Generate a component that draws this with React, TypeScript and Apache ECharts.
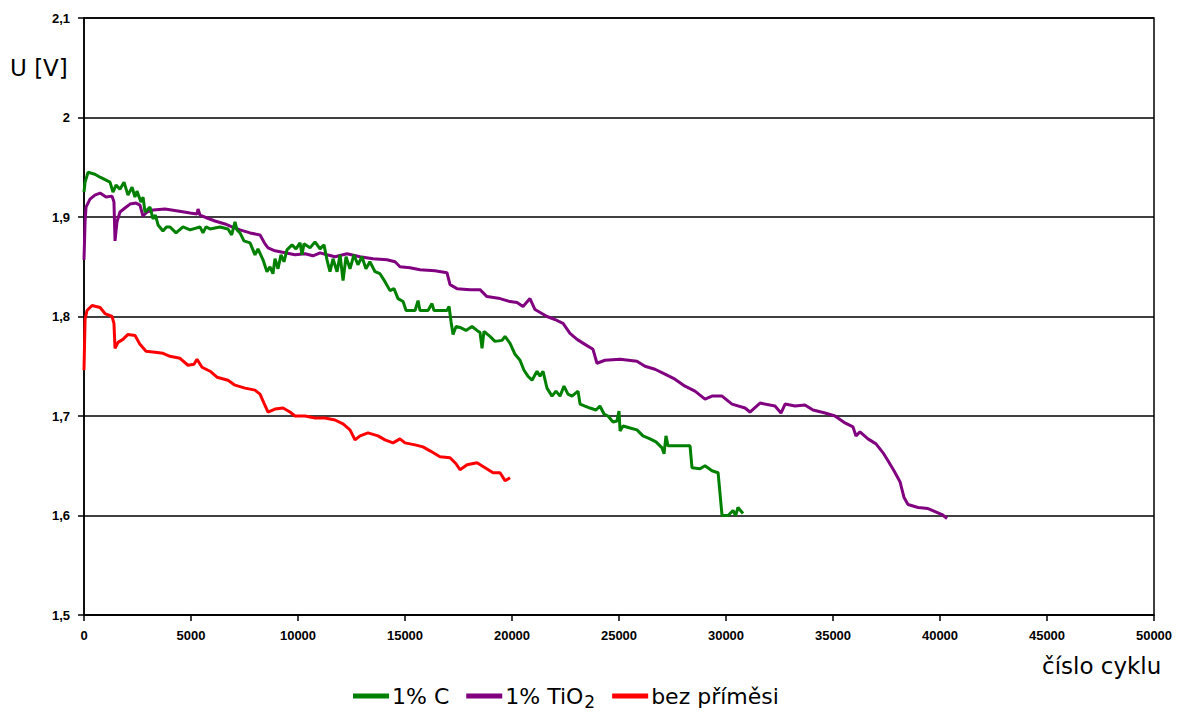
import React, { useEffect, useRef } from "react";
import * as echarts from "echarts";

const seriesNames = ["1% C", "1% TiO2", "bez příměsi"];
const seriesColors = ["#008000", "#800080", "#ff0000"];

const carbonData: [number, number][] = [
  [0, 1.925], [50, 1.935], [190, 1.945], [510, 1.943], [750, 1.94], [1030, 1.937], [1215, 1.935],
  [1355, 1.925], [1495, 1.932], [1680, 1.928], [1870, 1.935], [2055, 1.922], [2245, 1.93], [2380, 1.92],
  [2475, 1.926], [2660, 1.915], [2760, 1.92], [2850, 1.905], [3085, 1.91], [3225, 1.898], [3340, 1.902],
  [3460, 1.892], [3690, 1.886], [3850, 1.89], [4020, 1.89], [4300, 1.884], [4625, 1.89], [4955, 1.887],
  [5420, 1.89], [5560, 1.884], [5700, 1.89], [5890, 1.888], [6355, 1.89], [6730, 1.888], [6900, 1.882],
  [7055, 1.895], [7150, 1.887], [7290, 1.884], [7475, 1.876], [7760, 1.874], [7990, 1.862], [8130, 1.868],
  [8365, 1.857], [8550, 1.845], [8690, 1.85], [8830, 1.843], [8925, 1.858], [9065, 1.848], [9205, 1.862],
  [9345, 1.855], [9485, 1.867], [9720, 1.872], [9905, 1.868], [10095, 1.874], [10190, 1.862], [10280, 1.873],
  [10560, 1.869], [10795, 1.875], [11030, 1.868], [11215, 1.872], [11355, 1.857], [11495, 1.845], [11635, 1.858],
  [11825, 1.845], [11965, 1.862], [12105, 1.836], [12245, 1.86], [12430, 1.848], [12615, 1.862], [12800, 1.852],
  [12990, 1.86], [13175, 1.848], [13360, 1.855], [13600, 1.845], [13830, 1.843], [14065, 1.835], [14300, 1.826],
  [14485, 1.828], [14675, 1.818], [14910, 1.815], [15050, 1.806], [15470, 1.806], [15610, 1.816], [15700, 1.806],
  [16075, 1.806], [16260, 1.813], [16355, 1.806], [16960, 1.806], [17060, 1.81], [17150, 1.795], [17245, 1.782],
  [17385, 1.79], [17570, 1.789], [17850, 1.786], [18130, 1.79], [18365, 1.786], [18505, 1.784], [18600, 1.768],
  [18690, 1.785], [18970, 1.78], [19205, 1.775], [19535, 1.776], [19675, 1.78], [19910, 1.773], [20140, 1.762],
  [20375, 1.756], [20560, 1.746], [20745, 1.74], [20935, 1.736], [21170, 1.745], [21310, 1.74], [21450, 1.745],
  [21635, 1.728], [21870, 1.72], [22055, 1.725], [22245, 1.72], [22430, 1.73], [22615, 1.722], [22805, 1.72],
  [23085, 1.725], [23180, 1.712], [23410, 1.71], [23645, 1.708], [23925, 1.706], [24110, 1.71], [24300, 1.702],
  [24485, 1.7], [24720, 1.694], [24905, 1.695], [25000, 1.705], [25050, 1.685], [25190, 1.69], [25515, 1.688],
  [25840, 1.686], [26120, 1.68], [26450, 1.677], [26730, 1.674], [27010, 1.668], [27105, 1.662], [27195, 1.68],
  [27290, 1.67], [27850, 1.67], [28320, 1.67], [28410, 1.648], [28785, 1.647], [29020, 1.65], [29345, 1.645],
  [29630, 1.643], [29815, 1.6], [30095, 1.6], [30330, 1.605], [30450, 1.6], [30560, 1.608], [30795, 1.602],
];

const tio2Data: [number, number][] = [
  [0, 1.857], [50, 1.895], [95, 1.91], [280, 1.918], [510, 1.922], [750, 1.924], [1030, 1.92], [1310, 1.921],
  [1400, 1.915], [1450, 1.876], [1540, 1.895], [1680, 1.905], [1915, 1.909], [2150, 1.913], [2430, 1.914],
  [2615, 1.912], [2755, 1.901], [2945, 1.905], [3225, 1.907], [3785, 1.908], [4390, 1.906], [4955, 1.904],
  [5280, 1.903], [5330, 1.908], [5420, 1.902], [5750, 1.899], [6120, 1.896], [6590, 1.893], [6915, 1.89],
  [7290, 1.887], [7760, 1.884], [8225, 1.882], [8460, 1.873], [8600, 1.869], [8925, 1.866], [9395, 1.864],
  [9860, 1.862], [10330, 1.863], [10700, 1.861], [11030, 1.864], [11355, 1.862], [11730, 1.86], [12290, 1.863],
  [12900, 1.86], [13505, 1.858], [14160, 1.857], [14535, 1.855], [14765, 1.85], [15235, 1.849], [15700, 1.847],
  [16400, 1.846], [16960, 1.844], [17105, 1.832], [17430, 1.828], [18040, 1.827], [18505, 1.827], [18830, 1.82],
  [19440, 1.818], [19910, 1.815], [20235, 1.814], [20515, 1.81], [20840, 1.818], [21075, 1.807], [21635, 1.8],
  [22010, 1.797], [22385, 1.793], [22710, 1.783], [23040, 1.777], [23410, 1.772], [23785, 1.767], [23970, 1.753],
  [24345, 1.756], [25050, 1.757], [25840, 1.755], [26215, 1.75], [26680, 1.747], [27150, 1.742], [27615, 1.737],
  [28085, 1.73], [28550, 1.725], [29020, 1.717], [29345, 1.72], [29815, 1.72], [30280, 1.712], [30890, 1.708],
  [31120, 1.704], [31590, 1.713], [32290, 1.71], [32570, 1.703], [32760, 1.712], [33225, 1.71], [33690, 1.711],
  [34065, 1.706], [34630, 1.703], [35095, 1.7], [35560, 1.693], [35935, 1.689], [36075, 1.68], [36260, 1.684],
  [36635, 1.677], [37010, 1.672], [37340, 1.663], [37570, 1.655], [37850, 1.645], [38130, 1.634], [38320, 1.618],
  [38505, 1.611], [38975, 1.608], [39440, 1.607], [39770, 1.604], [40095, 1.601], [40330, 1.597],
];

const pureData: [number, number][] = [
  [0, 1.746], [50, 1.797], [140, 1.806], [375, 1.811], [750, 1.809], [980, 1.803], [1310, 1.8], [1400, 1.793],
  [1450, 1.768], [1590, 1.774], [1820, 1.777], [2055, 1.782], [2385, 1.781], [2615, 1.772], [2900, 1.765],
  [3320, 1.764], [3690, 1.763], [4020, 1.76], [4485, 1.758], [4860, 1.751], [5140, 1.752], [5280, 1.757],
  [5515, 1.749], [5890, 1.745], [6215, 1.739], [6730, 1.736], [7055, 1.731], [7525, 1.728], [7990, 1.726],
  [8225, 1.722], [8410, 1.713], [8600, 1.704], [8925, 1.707], [9300, 1.708], [9625, 1.704], [9860, 1.7],
  [10330, 1.7], [10795, 1.698], [11260, 1.698], [11730, 1.696], [12105, 1.692], [12430, 1.686], [12665, 1.676],
  [12900, 1.68], [13270, 1.683], [13740, 1.68], [14065, 1.676], [14440, 1.673], [14765, 1.677], [15000, 1.673],
  [15470, 1.671], [15840, 1.669], [16170, 1.665], [16635, 1.659], [17105, 1.658], [17385, 1.652], [17570, 1.646],
  [17900, 1.651], [18365, 1.653], [18740, 1.648], [19115, 1.643], [19440, 1.643], [19675, 1.635], [19910, 1.638],
];

const xMin = 0;
const xMax = 50000;
const xInterval = 5000;
const yMin = 1.5;
const yMax = 2.1;
const yInterval = 0.1;

const yAxisTitle = "U [V]";
const xAxisTitle = "číslo cyklu";

export default function App() {
  const ref = useRef<HTMLDivElement>(null);
  useEffect(() => {
    if (!ref.current) return;
    const chart = echarts.init(ref.current, null, { renderer: "svg" });
    const labelFont = {
      fontFamily: "Liberation Sans",
      fontWeight: "bold" as const,
      fontSize: 13,
      color: "#000",
    };
    const allData = [carbonData, tio2Data, pureData];
    chart.setOption({
      animation: false,
      backgroundColor: "#fff",
      grid: {
        left: 84,
        right: 31,
        top: 18,
        bottom: 100,
        show: true,
        borderColor: "#000",
        borderWidth: 1.5,
        containLabel: false,
      },
      xAxis: {
        type: "value",
        min: xMin,
        max: xMax,
        interval: xInterval,
        axisLine: { show: true, onZero: false, lineStyle: { color: "#000", width: 1.5 } },
        axisTick: { show: true, length: 6, lineStyle: { color: "#000", width: 1.5 } },
        splitLine: { show: false },
        axisLabel: { ...labelFont, margin: 14, formatter: (v: number) => String(Math.round(v)) },
      },
      yAxis: {
        type: "value",
        min: yMin,
        max: yMax,
        interval: yInterval,
        axisLine: { show: true, lineStyle: { color: "#000", width: 1.5 } },
        axisTick: { show: true, length: 6, lineStyle: { color: "#000", width: 1.5 } },
        splitLine: { show: true, lineStyle: { color: "#000", width: 1.5 } },
        axisLabel: {
          ...labelFont,
          margin: 14,
          formatter: (v: number) => String(Math.round(v * 10) / 10).replace(".", ","),
        },
      },
      legend: {
        left: 348,
        top: 680,
        itemWidth: 36,
        itemHeight: 5,
        itemGap: 17,
        icon: "rect",
        data: seriesNames,
        formatter: (name: string) => (name === "1% TiO2" ? "1% TiO{sub|2}" : name),
        textStyle: {
          fontFamily: "DejaVu Sans",
          fontSize: 22,
          color: "#000",
          padding: [0, 0, 0, -2],
          rich: {
            sub: {
              fontFamily: "DejaVu Sans",
              fontSize: 17,
              color: "#000",
              verticalAlign: "bottom",
              padding: [12, 6, 0, 1],
            },
          },
        },
      },
      graphic: [
        {
          type: "text",
          left: 10,
          top: 56,
          style: { text: yAxisTitle, fontFamily: "DejaVu Sans", fontSize: 23, fill: "#000" },
        },
        {
          type: "text",
          left: 1042,
          top: 654,
          style: { text: xAxisTitle, fontFamily: "DejaVu Sans", fontSize: 23, fill: "#000" },
        },
      ],
      series: seriesNames.map((name, i) => ({
        name,
        type: "line",
        data: allData[i],
        showSymbol: false,
        symbol: "none",
        lineStyle: { color: seriesColors[i], width: 3 },
        itemStyle: { color: seriesColors[i] },
        z: 5 - i,
      })),
    });
    return () => chart.dispose();
  }, []);
  return <div ref={ref} style={{ width: 1185, height: 715, position: "absolute", left: 0, top: 0 }} />;
}
